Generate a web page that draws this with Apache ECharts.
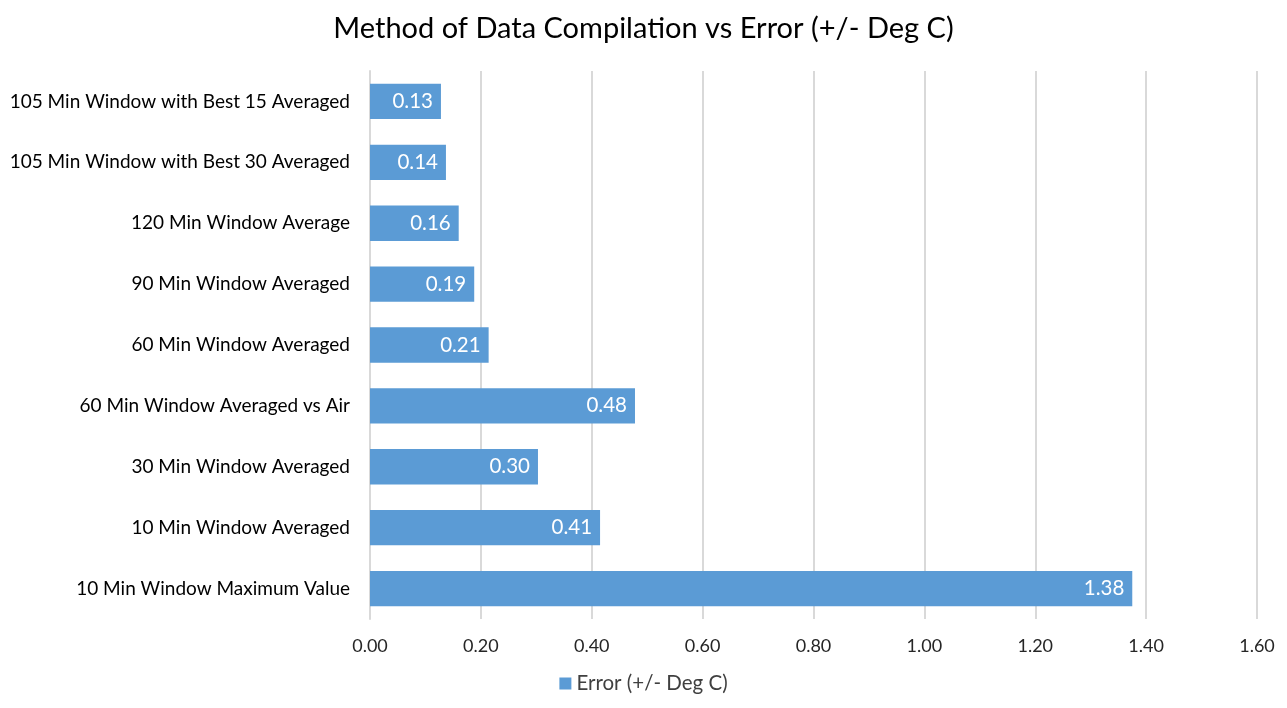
<!DOCTYPE html>
<html>
<head>
<meta charset="utf-8">
<script src="https://cdn.jsdelivr.net/npm/echarts@6/dist/echarts.min.js"></script>
<style>
html,body{margin:0;padding:0;background:#fff;}
#main{width:1287px;height:708px;}
</style>
</head>
<body>
<div id="main"></div>
<script>
const categories = [
  "105 Min Window with Best 15 Averaged",
  "105 Min Window with Best 30 Averaged",
  "120 Min Window Average",
  "90 Min Window Averaged",
  "60 Min Window Averaged",
  "60 Min Window Averaged vs Air",
  "30 Min Window Averaged",
  "10 Min Window Averaged",
  "10 Min Window Maximum Value"
];
const errorValues = [0.128, 0.137, 0.160, 0.188, 0.214, 0.478, 0.303, 0.415, 1.375];
const seriesName = "Error (+/- Deg C)";
const titleText = "Method of Data Compilation vs Error (+/- Deg C)";

const font = "Lato, 'Open Sans', sans-serif";
const chart = echarts.init(document.getElementById('main'), null, {renderer: 'canvas'});
chart.setOption({
  animation: false,
  backgroundColor: '#fff',
  title: {
    text: titleText,
    left: 'center',
    top: 9,
    textStyle: {fontFamily: font, fontSize: 29, fontWeight: 'normal', color: '#000'}
  },
  legend: {
    data: [seriesName],
    bottom: 9,
    left: 'center',
    itemWidth: 12,
    itemHeight: 12,
    itemGap: 6,
    icon: 'rect',
    textStyle: {fontFamily: font, fontSize: 20.5, color: '#404040'}
  },
  grid: {left: 370, right: 30, top: 71, bottom: 89, containLabel: false},
  xAxis: {
    type: 'value',
    min: 0, max: 1.6, interval: 0.2,
    axisLine: {show: false},
    axisTick: {show: false},
    axisLabel: {
      formatter: v => v.toFixed(2),
      fontFamily: font, fontSize: 18, color: '#262626', margin: 18
    },
    splitLine: {show: true, lineStyle: {color: '#d9d9d9', width: 2}}
  },
  yAxis: {
    type: 'category',
    data: categories,
    inverse: true,
    axisLine: {show: true, lineStyle: {color: '#d9d9d9', width: 2}},
    axisTick: {show: false},
    axisLabel: {fontFamily: font, fontSize: 19, color: '#000', margin: 20}
  },
  series: [{
    name: seriesName,
    type: 'bar',
    data: errorValues,
    barCategoryGap: '42%',
    itemStyle: {color: '#5B9BD5'},
    label: {
      show: true,
      position: 'insideRight',
      offset: [-3, 0],
      formatter: p => p.value.toFixed(2),
      fontFamily: font, fontSize: 20.5, color: '#fff'
    }
  }]
});
</script>
</body>
</html>
